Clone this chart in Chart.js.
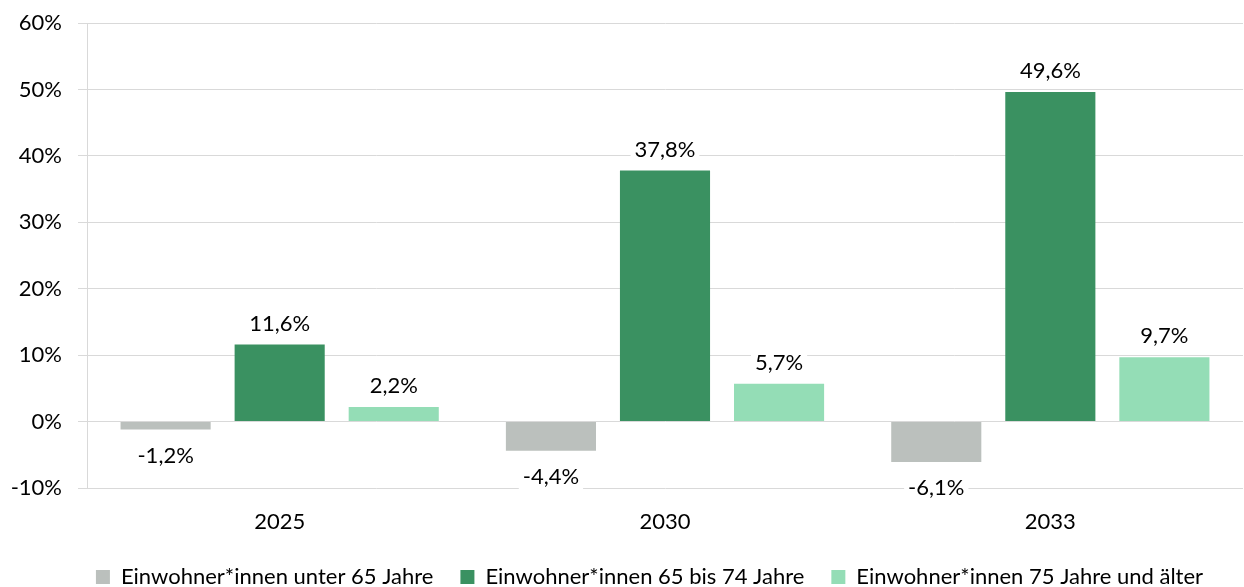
<!DOCTYPE html>
<html>
<head>
<meta charset="utf-8">
<script src="https://cdn.jsdelivr.net/npm/chart.js@4"></script>
<style>
  html, body { margin: 0; padding: 0; background: #fff; }
  #chart { display: block; }
</style>
</head>
<body>
<canvas id="chart" width="1244" height="587"></canvas>
<script>
const YEARS = ["2025", "2030", "2033"];
const SERIES_NAMES = [
  "Einwohner*innen unter 65 Jahre",
  "Einwohner*innen 65 bis 74 Jahre",
  "Einwohner*innen 75 Jahre und älter",
];
const UNDER_65 = [-1.2, -4.4, -6.1];
const AGE_65_74 = [11.6, 37.8, 49.6];
const AGE_75_PLUS = [2.2, 5.7, 9.7];
const SERIES_COLORS = ["#BBC0BD", "#3A9161", "#94DDB6"];

const FONT = "Lato, 'Open Sans', sans-serif";
const FONT_SIZE = 22;

// value labels: above positive bars, below negative ones, on a white box
const valueLabels = {
  id: "valueLabels",
  afterDatasetsDraw(chart) {
    const ctx = chart.ctx;
    ctx.save();
    ctx.font = FONT_SIZE + "px " + FONT;
    ctx.textAlign = "center";
    ctx.textBaseline = "middle";
    chart.data.datasets.forEach((ds, i) => {
      chart.getDatasetMeta(i).data.forEach((bar, j) => {
        const v = ds.data[j];
        const text = v.toFixed(1).replace(".", ",") + "%";
        const y = v >= 0 ? bar.y - 21 : bar.y + 26;
        const w = ctx.measureText(text).width + 8;
        ctx.fillStyle = "#fff";
        ctx.fillRect(bar.x - w / 2, y - 13, w, 26);
        ctx.fillStyle = "#000";
        ctx.fillText(text, bar.x, y);
      });
    });
    ctx.restore();
  },
};

// legend sits low and a bit right of centre, with wide gaps between items
const tightLegend = {
  id: "tightLegend",
  beforeLayout(chart) {
    const lg = chart.legend;
    if (lg && !lg._tight) {
      const fit = lg.fit;
      lg.fit = function () {
        fit.call(this);
        this.height = 52;
      };
      lg._tight = true;
    }
  },
  afterLayout(chart) {
    const lg = chart.legend;
    lg.top += 4;
    lg.bottom += 4;
    lg.left += 28;
    lg.right += 28;
  },
};

const seriesData = [UNDER_65, AGE_65_74, AGE_75_PLUS];

new Chart(document.getElementById("chart"), {
  type: "bar",
  data: {
    labels: YEARS,
    datasets: SERIES_NAMES.map((name, i) => ({
      label: name,
      data: seriesData[i],
      backgroundColor: SERIES_COLORS[i],
      categoryPercentage: 0.888,
      barPercentage: 0.79,
    })),
  },
  options: {
    responsive: false,
    animation: false,
    layout: { padding: { top: 23, right: 1, left: 0, bottom: 0 } },
    scales: {
      x: {
        grid: { display: false },
        border: { display: false },
        ticks: { color: "#000", font: { family: FONT, size: FONT_SIZE }, padding: 13 },
        afterFit: (axis) => { axis.height = 47; },
      },
      y: {
        min: -10,
        max: 60,
        ticks: {
          stepSize: 10,
          color: "#000",
          font: { family: FONT, size: FONT_SIZE },
          padding: 16,
          callback: (v) => v + "%",
        },
        grid: { color: "#D9D9D9", lineWidth: 1, tickLength: 9 },
        border: { color: "#D9D9D9" },
        afterFit: (axis) => {
          axis.width = 87;
          axis.paddingTop = 0;
          axis.paddingBottom = 0;
        },
      },
    },
    plugins: {
      legend: {
        position: "bottom",
        labels: {
          color: "#000",
          font: { family: FONT, size: FONT_SIZE },
          boxWidth: 14,
          boxHeight: 14,
          padding: 27,
        },
      },
      tooltip: { enabled: false },
    },
  },
  plugins: [valueLabels, tightLegend],
});
</script>
</body>
</html>
